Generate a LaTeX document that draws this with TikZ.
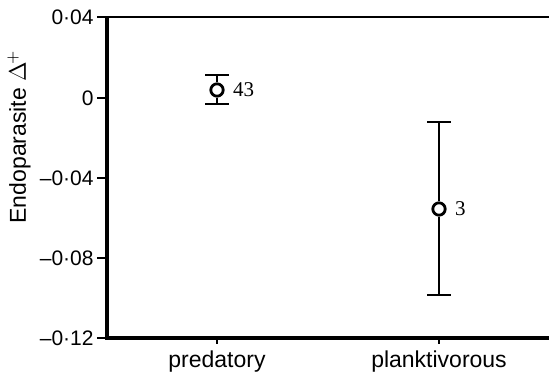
\documentclass[tikz,border=0pt]{standalone}
\usepackage{fontspec}
\setmainfont{Liberation Sans}
\newfontfamily\numfont{Liberation Serif}
\usetikzlibrary{positioning}
\tikzset{
  axisline/.style={line width=1.8pt},
  ticklab/.style={anchor=east, font=\fontsize{10.5}{12}\selectfont, inner sep=1pt},
  catlab/.style={anchor=north, font=\fontsize{11.5}{13}\selectfont, inner sep=1pt},
  meanpt/.style={circle, draw, line width=1.4pt, minimum size=6.2pt, inner sep=0pt, fill=white},
  errbar/.style={line width=1.3pt},
  nlab/.style={font=\numfont\fontsize{10.5}{12}\selectfont, inner sep=1pt}
}
\begin{document}
\begin{tikzpicture}[x=0.5pt,y=-0.5pt]
        \useasboundingbox (0,0) rectangle (549,374);
        % axes
        \draw[line width=0.6pt] (107,17) -- (549,17);
        \draw[axisline] (107,17) -- (107,338) -- (549,338);
        \foreach \yy/\lab in {17/0·04, 98/0, 178/–0·04, 258/–0·08, 338/–0·12}{
            \draw[line width=1.3pt] (97,\yy) -- (107,\yy);
            \node[ticklab] at (96,\yy) {\lab};
        }
        \foreach \xx/\lab in {217/predatory, 439/planktivorous}{
            \draw[line width=1.3pt] (\xx,338) -- (\xx,344);
            \node[catlab] at (\xx,348) {\lab};
        }
        \node[rotate=90, font=\fontsize{11.5}{13}\selectfont] (ylab) at (19,137) {Endoparasite $\Delta^{\!+}$};
        % predatory
        \coordinate (pt) at (217,75);
        \coordinate (pb) at (217,104);
        \node[meanpt] (p) at (217,90) {};
        \draw[errbar] (pt) -- (p) (p) -- (pb);
        \draw[errbar] ([xshift=-6]pt) -- ([xshift=6]pt);
        \draw[errbar] ([xshift=-6]pb) -- ([xshift=6]pb);
        \node[nlab, right=3pt of p] (pn) {43};
        % planktivorous
        \coordinate (qt) at (439,122);
        \coordinate (qb) at (439,295);
        \node[meanpt] (q) at (439,209) {};
        \draw[errbar] (qt) -- (q) (q) -- (qb);
        \draw[errbar] ([xshift=-6]qt) -- ([xshift=6]qt);
        \draw[errbar] ([xshift=-6]qb) -- ([xshift=6]qb);
        \node[nlab, right=3pt of q] (qn) {3};
\end{tikzpicture}
\end{document}
